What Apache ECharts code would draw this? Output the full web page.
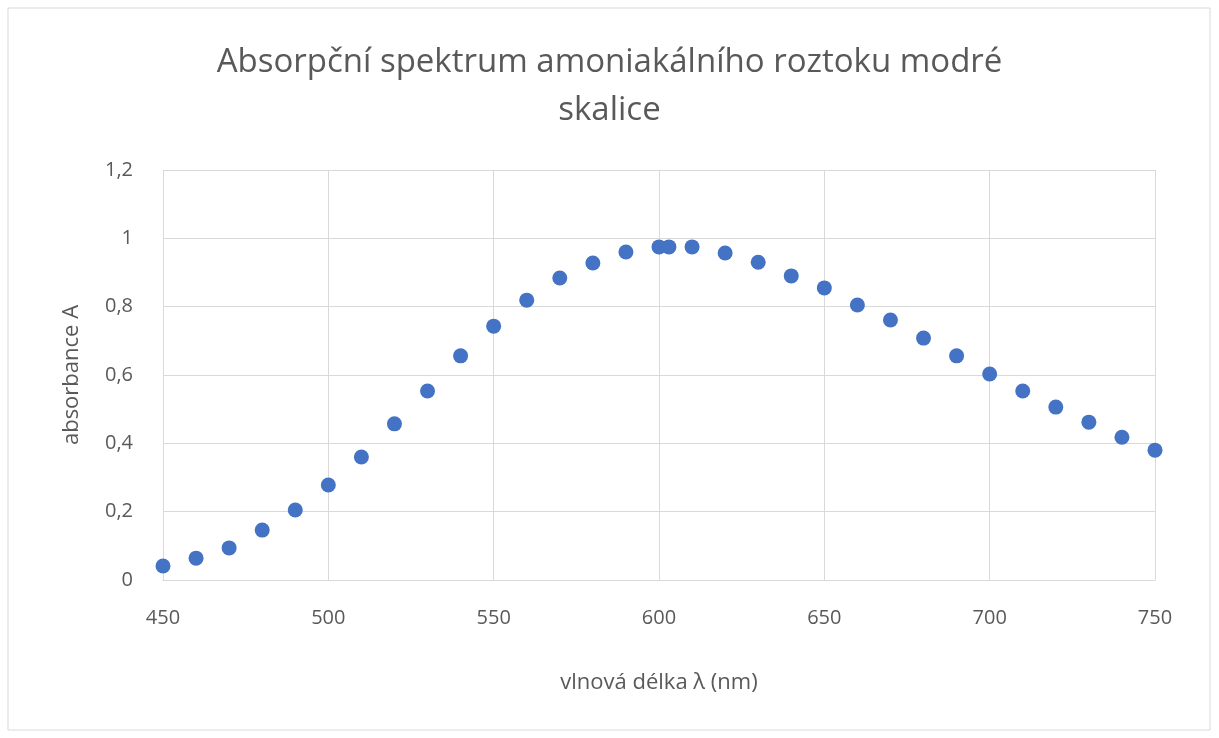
<!DOCTYPE html>
<html>
<head>
<meta charset="utf-8">
<script src="https://cdn.jsdelivr.net/npm/echarts@6/dist/echarts.min.js"></script>
<style>
html, body { margin: 0; padding: 0; background: #fff; }
#chart { width: 1219px; height: 738px; }
</style>
</head>
<body>
<div id="chart"></div>
<script>
// vlnové délky (nm) a naměřené absorbance
var wavelengths = [450, 460, 470, 480, 490, 500, 510, 520, 530, 540, 550, 560, 570, 580, 590, 600, 603, 610,
    620, 630, 640, 650, 660, 670, 680, 690, 700, 710, 720, 730, 740, 750];
var absorbance = [0.041, 0.064, 0.094, 0.146, 0.205, 0.278, 0.36, 0.457, 0.553, 0.656, 0.743, 0.819, 0.884, 0.928,
    0.96, 0.975, 0.975, 0.975, 0.957, 0.93, 0.89, 0.855, 0.805, 0.761, 0.708, 0.656, 0.603, 0.553, 0.506, 0.462,
    0.418, 0.38];

var chart = echarts.init(document.getElementById('chart'));
var gridLine = { show: true, lineStyle: { color: '#d9d9d9', width: 1 } };
chart.setOption({
    title: {
        text: 'Absorpční spektrum amoniakálního roztoku modré\nskalice',
        left: 'center',
        top: 34,
        textStyle: { color: '#595959', fontSize: 33, fontWeight: 'normal', lineHeight: 48, fontFamily: 'Open Sans' }
    },
    grid: { left: 163, right: 64, top: 170, bottom: 158 },
    xAxis: {
        type: 'value',
        min: 450, max: 750, interval: 50,
        name: 'vlnová délka λ (nm)',
        nameLocation: 'center',
        nameGap: 92,
        nameTextStyle: { color: '#595959', fontSize: 22, fontFamily: 'Open Sans' },
        axisLabel: { color: '#595959', fontSize: 20, margin: 28, fontFamily: 'Open Sans' },
        axisLine: { lineStyle: { color: '#d9d9d9' } },
        axisTick: { show: false },
        splitLine: gridLine
    },
    yAxis: {
        type: 'value',
        min: 0, max: 1.2, interval: 0.2,
        name: 'absorbance A',
        nameLocation: 'center',
        nameGap: 80,
        nameTextStyle: { color: '#595959', fontSize: 22, fontFamily: 'Open Sans' },
        axisLabel: {
            color: '#595959', fontSize: 20, margin: 30, fontFamily: 'Open Sans',
            formatter: function (v) { return String(Math.round(v * 10) / 10).replace('.', ','); }
        },
        axisLine: { show: false },
        axisTick: { show: false },
        splitLine: gridLine
    },
    series: [{
        type: 'scatter',
        symbolSize: 15,
        itemStyle: { color: '#4472c4', opacity: 1 },
        data: wavelengths.map(function (w, i) { return [w, absorbance[i]]; })
    }],
    graphic: [{
        type: 'rect',
        shape: { x: 8, y: 8, width: 1202, height: 722 },
        style: { fill: 'none', stroke: '#d9d9d9', lineWidth: 1 }
    }]
});
</script>
</body>
</html>
